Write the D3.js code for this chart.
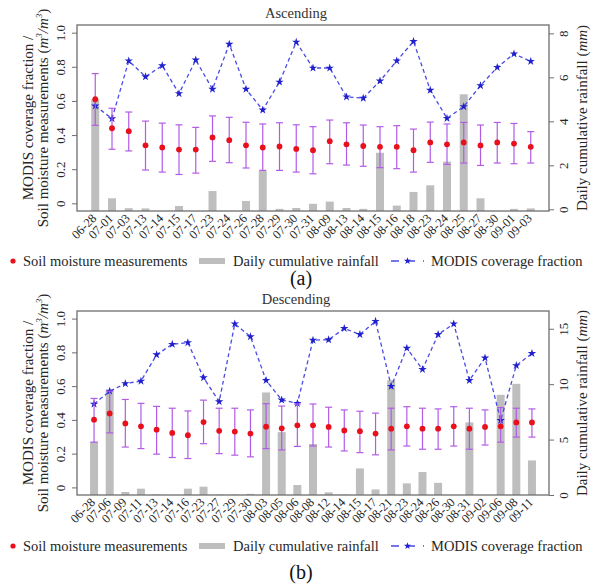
<!DOCTYPE html>
<html>
<head>
<meta charset="utf-8">
<script src="https://cdn.jsdelivr.net/npm/d3@7"></script>
<style>
	body { margin: 0; background: #fff; }
	svg { display: block; }
	svg text { font-family: "Liberation Serif", "DejaVu Serif", serif; }
</style>
</head>
<body>
<div id="chart"></div>
<script>
// ascending overpasses
const ascDates = ['06-28', '07-01', '07-03', '07-13', '07-14', '07-15', '07-17', '07-23', '07-24', '07-26', '07-28', '07-29', '07-30', '07-31', '08-09', '08-13', '08-14', '08-15', '08-16', '08-18', '08-23', '08-24', '08-25', '08-27', '08-30', '09-01', '09-03'];
const ascSoil = [0.61, 0.44, 0.423, 0.34, 0.327, 0.315, 0.315, 0.386, 0.37, 0.34, 0.327, 0.333, 0.319, 0.311, 0.364, 0.346, 0.336, 0.331, 0.331, 0.311, 0.357, 0.346, 0.357, 0.339, 0.357, 0.35, 0.331];
const ascSoilHi = [0.76, 0.557, 0.535, 0.482, 0.47, 0.46, 0.445, 0.512, 0.504, 0.475, 0.465, 0.472, 0.46, 0.449, 0.488, 0.472, 0.459, 0.449, 0.455, 0.435, 0.476, 0.465, 0.474, 0.459, 0.474, 0.468, 0.42];
const ascSoilLo = [0.457, 0.317, 0.307, 0.195, 0.183, 0.169, 0.177, 0.246, 0.238, 0.207, 0.193, 0.193, 0.183, 0.173, 0.232, 0.224, 0.217, 0.209, 0.203, 0.183, 0.24, 0.228, 0.236, 0.222, 0.236, 0.232, 0.236];
const ascModis = [0.571, 0.496, 0.835, 0.742, 0.807, 0.643, 0.84, 0.669, 0.933, 0.669, 0.547, 0.711, 0.945, 0.793, 0.793, 0.624, 0.616, 0.717, 0.835, 0.949, 0.663, 0.498, 0.567, 0.69, 0.797, 0.876, 0.832];
const ascRain = [5.0, 0.5, 0.05, 0.04, 0, 0.15, 0, 0.83, 0, 0.38, 1.74, 0.02, 0.06, 0.25, 0.35, 0.06, 0.02, 2.57, 0.17, 0.79, 1.09, 2.17, 5.23, 0.5, 0, 0.02, 0.04];
const ascRainTicks = [0, 2, 4, 6, 8];

// descending overpasses
const descDates = ['06-28', '07-06', '07-09', '07-11', '07-13', '07-14', '07-16', '07-23', '07-27', '07-29', '07-30', '08-03', '08-05', '08-06', '08-08', '08-12', '08-14', '08-15', '08-17', '08-21', '08-23', '08-24', '08-26', '08-30', '08-31', '09-02', '09-06', '09-08', '09-11'];
const descSoil = [0.401, 0.438, 0.379, 0.362, 0.342, 0.323, 0.309, 0.387, 0.335, 0.331, 0.319, 0.36, 0.35, 0.368, 0.368, 0.358, 0.337, 0.333, 0.319, 0.348, 0.362, 0.348, 0.348, 0.362, 0.348, 0.358, 0.362, 0.385, 0.385];
const descSoilHi = [0.527, 0.57, 0.521, 0.498, 0.48, 0.469, 0.453, 0.517, 0.469, 0.469, 0.459, 0.496, 0.482, 0.494, 0.494, 0.475, 0.459, 0.451, 0.44, 0.469, 0.478, 0.469, 0.465, 0.478, 0.469, 0.459, 0.473, 0.469, 0.465];
const descSoilLo = [0.268, 0.323, 0.239, 0.23, 0.197, 0.177, 0.171, 0.259, 0.2, 0.191, 0.181, 0.23, 0.222, 0.243, 0.245, 0.239, 0.216, 0.206, 0.193, 0.222, 0.245, 0.226, 0.226, 0.245, 0.226, 0.251, 0.268, 0.298, 0.298];
const descModis = [0.494, 0.57, 0.615, 0.63, 0.786, 0.848, 0.858, 0.65, 0.508, 0.969, 0.893, 0.634, 0.518, 0.498, 0.872, 0.875, 0.942, 0.906, 0.984, 0.599, 0.825, 0.699, 0.906, 0.969, 0.634, 0.767, 0.397, 0.722, 0.794];
const descRain = [4.8, 9.4, 0.27, 0.57, 0.05, 0, 0.57, 0.75, 0.05, 0.05, 0.1, 9.25, 5.67, 0.9, 4.6, 0.24, 0.04, 2.4, 0.5, 10.35, 1.05, 2.07, 1.1, 0, 6.55, 0, 9.04, 10.03, 3.12];
const descRainTicks = [0, 5, 10, 15];

const soilTicks = [0, 0.2, 0.4, 0.6, 0.8, 1.0];
const legendLabels = ['Soil moisture measurements', 'Daily cumulative rainfall', 'MODIS coverage fraction'];

const width = 597, height = 584;
const plotLeft = 77, plotRight = 549;
const barW = 8;
const serif = '"Liberation Serif", "DejaVu Serif", serif';
const colors = {
	soil: '#e8101c',
	err: '#b25ce6',
	modisLine: '#4a4ae6',
	modis: '#2020cc',
	rain: '#bebebe',
	frame: '#6e6e6e',
	text: '#262626'
};

let panels = [
	{ title: 'Ascending', tag: '(a)', top: 25, bottom: 211, dates: ascDates, soil: ascSoil, soilHi: ascSoilHi, soilLo: ascSoilLo,
		modis: ascModis, rain: ascRain, rainDomain: [-0.077, 8.38], rainTicks: ascRainTicks, titleY: 18, legendY: 266, tagY: 285 },
	{ title: 'Descending', tag: '(b)', top: 311, bottom: 495, dates: descDates, soil: descSoil, soilHi: descSoilHi, soilLo: descSoilLo,
		modis: descModis, rain: descRain, rainDomain: [0, 16.6], rainTicks: descRainTicks, titleY: 304, legendY: 551, tagY: 579 }
];

let svg = d3.select('#chart').append('svg')
	.attr('width', width)
	.attr('height', height)
	.attr('font-family', serif);

panels.forEach(p => drawPanel(svg, p));


function drawPanel(svg, p) {
	let x = d3.scalePoint().domain(p.dates).range([plotLeft, plotRight]).padding(1.09);
	let y = d3.scaleLinear().domain([-0.045, 1.045]).range([p.bottom, p.top]);
	let y2 = d3.scaleLinear().domain(p.rainDomain).range([p.bottom, p.top]);
	let cx = (d, i) => x(p.dates[i]);

	let g = svg.append('g');

	//Rainfall bars
	g.append('g').selectAll('rect')
		.data(p.rain.map((v, i) => [v, i]).filter(d => d[0] > 0))
		.join('rect')
		.attr('x', d => x(p.dates[d[1]]) - barW / 2)
		.attr('width', barW)
		.attr('y', d => y2(d[0]))
		.attr('height', d => p.bottom - y2(d[0]))
		.attr('fill', colors.rain);

	//MODIS coverage line + stars
	let line = d3.line().x(cx).y(d => y(d));
	g.append('path')
		.datum(p.modis)
		.attr('d', line)
		.attr('fill', 'none')
		.attr('stroke', colors.modisLine)
		.attr('stroke-width', 1.3)
		.attr('stroke-dasharray', '4,3');
	g.append('g').selectAll('path')
		.data(p.modis)
		.join('path')
		.attr('d', d3.symbol(d3.symbolStar, 22))
		.attr('transform', (d, i) => `translate(${cx(d, i)},${y(d)})`)
		.attr('fill', colors.modis);

	//Error bars
	let err = g.append('g')
		.attr('stroke', colors.err)
		.attr('stroke-width', 1.2);
	p.soil.forEach((v, i) => {
		let xi = x(p.dates[i]);
		err.append('line').attr('x1', xi).attr('x2', xi).attr('y1', y(p.soilLo[i])).attr('y2', y(p.soilHi[i]));
		err.append('line').attr('x1', xi - 3.5).attr('x2', xi + 3.5).attr('y1', y(p.soilLo[i])).attr('y2', y(p.soilLo[i]));
		err.append('line').attr('x1', xi - 3.5).attr('x2', xi + 3.5).attr('y1', y(p.soilHi[i])).attr('y2', y(p.soilHi[i]));
	});

	//Soil moisture points
	g.append('g').selectAll('circle')
		.data(p.soil)
		.join('circle')
		.attr('cx', cx)
		.attr('cy', d => y(d))
		.attr('r', 2.9)
		.attr('fill', colors.soil);

	//Frame
	g.append('rect')
		.attr('x', plotLeft)
		.attr('y', p.top)
		.attr('width', plotRight - plotLeft)
		.attr('height', p.bottom - p.top)
		.attr('fill', 'none')
		.attr('stroke', colors.frame)
		.attr('stroke-width', 1.3);

	//Axes
	let axisL = d3.axisLeft(y).tickValues(soilTicks).tickSize(5)
		.tickFormat(d => d === 0 ? '0' : d3.format('.1f')(d));
	let gl = g.append('g').attr('transform', `translate(${plotLeft},0)`).call(axisL);
	styleAxis(gl);
	gl.selectAll('text')
		.attr('x', null).attr('dy', null)
		.attr('text-anchor', 'middle')
		.attr('transform', 'translate(-12,0) rotate(-90)');

	let axisR = d3.axisRight(y2).tickValues(p.rainTicks).tickSize(5);
	let gr = g.append('g').attr('transform', `translate(${plotRight},0)`).call(axisR);
	styleAxis(gr);
	gr.selectAll('text')
		.attr('x', null).attr('dy', null)
		.attr('text-anchor', 'middle')
		.attr('transform', 'translate(19,0) rotate(-90)');

	let axisB = d3.axisBottom(x).tickSize(0);
	let gb = g.append('g').attr('transform', `translate(0,${p.bottom})`).call(axisB);
	styleAxis(gb);
	gb.selectAll('text')
		.attr('y', null).attr('dy', null)
		.attr('text-anchor', 'end')
		.attr('font-size', 12.5)
		.attr('transform', 'translate(1.5,8) rotate(-45)');

	//Axis titles
	let midY = (p.top + p.bottom) / 2;
	g.append('text')
		.attr('transform', `translate(33,${midY}) rotate(-90)`)
		.attr('text-anchor', 'middle')
		.attr('font-size', 15)
		.attr('fill', colors.text)
		.text('MODIS coverage fraction /');
	let t2 = g.append('text')
		.attr('transform', `translate(47.5,${midY}) rotate(-90)`)
		.attr('text-anchor', 'middle')
		.attr('font-size', 15)
		.attr('fill', colors.text);
	t2.append('tspan').text('Soil moisture measurements (');
	t2.append('tspan').attr('font-style', 'italic').text('m');
	t2.append('tspan').attr('font-style', 'italic').attr('font-size', 9).attr('dy', -6).text('3');
	t2.append('tspan').attr('font-style', 'italic').attr('dy', 6).text('/m');
	t2.append('tspan').attr('font-style', 'italic').attr('font-size', 9).attr('dy', -6).text('3');
	t2.append('tspan').attr('dy', 6).text(')');

	let t3 = g.append('text')
		.attr('transform', `translate(587,${midY}) rotate(-90)`)
		.attr('text-anchor', 'middle')
		.attr('font-size', 15)
		.attr('fill', colors.text);
	t3.append('tspan').text('Daily cumulative rainfall (');
	t3.append('tspan').attr('font-style', 'italic').text('mm');
	t3.append('tspan').text(')');

	//Panel title and tag
	g.append('text')
		.attr('x', 296).attr('y', p.titleY)
		.attr('text-anchor', 'middle')
		.attr('font-size', 14.5)
		.attr('fill', '#333')
		.text(p.title);
	g.append('text')
		.attr('x', 301).attr('y', p.tagY)
		.attr('text-anchor', 'middle')
		.attr('font-size', 20)
		.attr('fill', '#111')
		.text(p.tag);

	drawLegend(g, p.legendY);
}


function styleAxis(sel) {
	sel.select('.domain').remove();
	sel.selectAll('line').attr('stroke', colors.frame);
	sel.attr('font-family', serif).attr('font-size', 13);
	sel.selectAll('text')
		.attr('fill', colors.text)
		.attr('font-size', 13);
}


function drawLegend(g, by) {
	let lg = g.append('g').attr('font-size', 14.5).attr('fill', colors.text);
	let cy = by - 5;

	lg.append('circle').attr('cx', 13).attr('cy', cy).attr('r', 2.6).attr('fill', colors.soil);
	lg.append('text').attr('x', 23).attr('y', by).text(legendLabels[0]);

	lg.append('rect').attr('x', 199).attr('y', cy - 3).attr('width', 26).attr('height', 6).attr('fill', colors.rain);
	lg.append('text').attr('x', 233).attr('y', by).text(legendLabels[1]);

	lg.append('line')
		.attr('x1', 391).attr('x2', 424).attr('y1', cy).attr('y2', cy)
		.attr('stroke', colors.modisLine).attr('stroke-width', 1.4).attr('stroke-dasharray', '8,8');
	lg.append('path')
		.attr('d', d3.symbol(d3.symbolStar, 16))
		.attr('transform', `translate(407.5,${cy})`)
		.attr('fill', colors.modis);
	lg.append('text').attr('x', 431).attr('y', by).text(legendLabels[2]);
}
</script>
</body>
</html>
